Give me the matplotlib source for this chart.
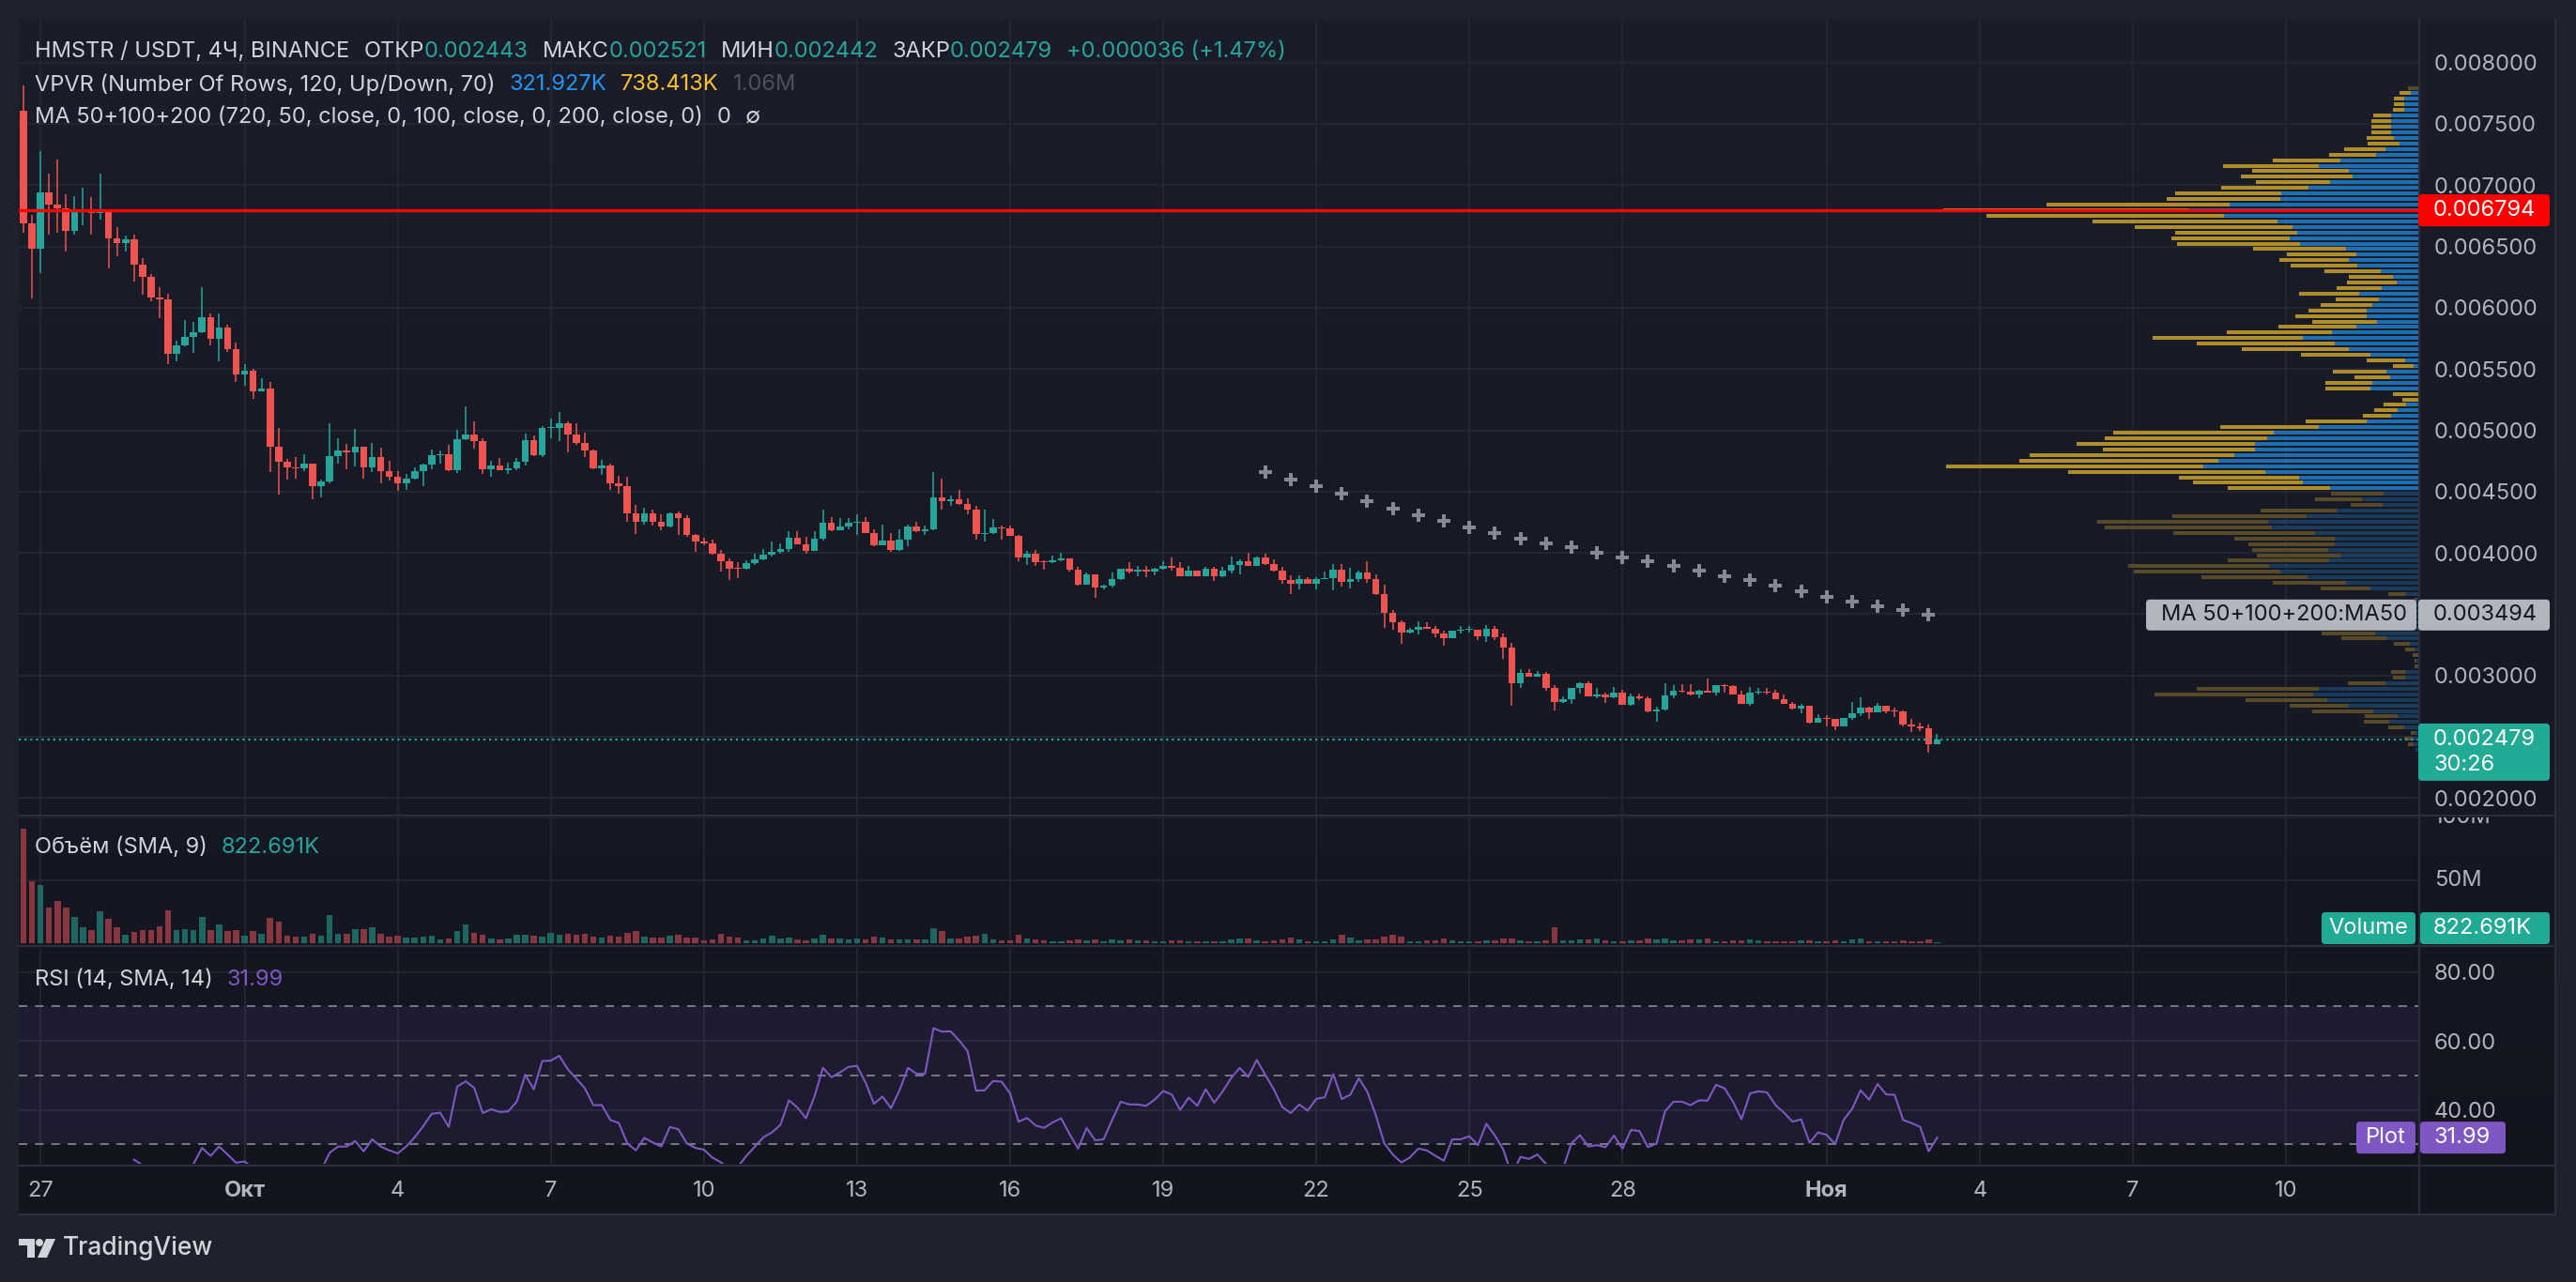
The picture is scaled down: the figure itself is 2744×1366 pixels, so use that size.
import numpy as np
import pandas as pd
import matplotlib
matplotlib.use('Agg')
import matplotlib.pyplot as plt
from matplotlib.patches import FancyBboxPatch, Polygon, Circle
from matplotlib.lines import Line2D
from matplotlib.transforms import Affine2D
from matplotlib.colors import LinearSegmentedColormap

plt.rcParams['font.family'] = ['Inter', 'DejaVu Sans']
plt.rcParams['lines.scale_dashes'] = False

# ---------------------------------------------------------------- data
bar_start = '2024-09-26 16:00'          # first 4h bar
first_open = 0.007603

closes = [
    0.006690, 0.006484, 0.006940, 0.006843, 0.006808, 0.006629, 0.006782, 0.006787, 0.006774, 0.006785,
    0.006568, 0.006527, 0.006558, 0.006353, 0.006251, 0.006086, 0.006070, 0.005626, 0.005695, 0.005762,
    0.005800, 0.005922, 0.005749, 0.005838, 0.005662, 0.005458, 0.005486, 0.005320, 0.005341, 0.004869,
    0.004746, 0.004700, 0.004693, 0.004728, 0.004547, 0.004586, 0.004790, 0.004836, 0.004823, 0.004864,
    0.004700, 0.004782, 0.004670, 0.004624, 0.004570, 0.004603, 0.004667, 0.004723, 0.004797, 0.004805,
    0.004677, 0.004927, 0.004966, 0.004910, 0.004685, 0.004711, 0.004675, 0.004690, 0.004744, 0.004920,
    0.004795, 0.005019, 0.005021, 0.005057, 0.004966, 0.004897, 0.004835, 0.004690, 0.004713, 0.004568,
    0.004545, 0.004323, 0.004254, 0.004323, 0.004254, 0.004216, 0.004323, 0.004284, 0.004147, 0.004093,
    0.004078, 0.003994, 0.003932, 0.003871, 0.003868, 0.003917, 0.003948, 0.003986, 0.004009, 0.004032,
    0.004124, 0.004070, 0.004017, 0.004116, 0.004246, 0.004185, 0.004216, 0.004246, 0.004254, 0.004162,
    0.004063, 0.004101, 0.004024, 0.004108, 0.004216, 0.004177, 0.004193, 0.004453, 0.004422, 0.004438,
    0.004399, 0.004356, 0.004154, 0.004165, 0.004208, 0.004203, 0.004142, 0.003963, 0.003994, 0.003925,
    0.003924, 0.003943, 0.003955, 0.003864, 0.003741, 0.003825, 0.003718, 0.003731, 0.003787, 0.003871,
    0.003848, 0.003864, 0.003848, 0.003871, 0.003894, 0.003879, 0.003810, 0.003856, 0.003810, 0.003871,
    0.003810, 0.003856, 0.003902, 0.003932, 0.003894, 0.003963, 0.003910, 0.003856, 0.003779, 0.003749,
    0.003787, 0.003749, 0.003787, 0.003797, 0.003864, 0.003764, 0.003787, 0.003841, 0.003787, 0.003665,
    0.003512, 0.003435, 0.003351, 0.003374, 0.003397, 0.003381, 0.003343, 0.003305, 0.003366, 0.003371,
    0.003372, 0.003320, 0.003381, 0.003313, 0.003228, 0.002938, 0.003022, 0.002991, 0.003014, 0.002899,
    0.002784, 0.002807, 0.002899, 0.002938, 0.002830, 0.002846, 0.002823, 0.002861, 0.002761, 0.002830,
    0.002815, 0.002708, 0.002723, 0.002838, 0.002876, 0.002869, 0.002846, 0.002876, 0.002861, 0.002922,
    0.002912, 0.002846, 0.002769, 0.002861, 0.002869, 0.002861, 0.002807, 0.002769, 0.002731, 0.002754,
    0.002616, 0.002654, 0.002647, 0.002586, 0.002654, 0.002693, 0.002739, 0.002700, 0.002754, 0.002708,
    0.002706, 0.002601, 0.002586, 0.002570, 0.002443, 0.002479,
]
highs = [
    0.007816, 0.006754, 0.007277, 0.007091, 0.007208, 0.006925, 0.006910, 0.006978, 0.006902, 0.007091,
    0.006787, 0.006657, 0.006588, 0.006596, 0.006404, 0.006277, 0.006167, 0.006114, 0.005731, 0.005899,
    0.005884, 0.006167, 0.005950, 0.005950, 0.005861, 0.005713, 0.005540, 0.005501, 0.005425, 0.005394,
    0.005019, 0.004769, 0.004782, 0.004805, 0.004728, 0.004601, 0.005058, 0.004935, 0.004889, 0.005012,
    0.004869, 0.004897, 0.004859, 0.004751, 0.004670, 0.004647, 0.004700, 0.004731, 0.004843, 0.004836,
    0.004881, 0.005004, 0.005195, 0.005073, 0.004935, 0.004751, 0.004774, 0.004736, 0.004774, 0.004973,
    0.004958, 0.005034, 0.005096, 0.005149, 0.005073, 0.005057, 0.004981, 0.004843, 0.004759, 0.004728,
    0.004629, 0.004621, 0.004392, 0.004369, 0.004353, 0.004315, 0.004330, 0.004338, 0.004307, 0.004154,
    0.004124, 0.004108, 0.004024, 0.003955, 0.003925, 0.003940, 0.003994, 0.004032, 0.004093, 0.004078,
    0.004177, 0.004177, 0.004131, 0.004177, 0.004353, 0.004292, 0.004284, 0.004284, 0.004315, 0.004292,
    0.004193, 0.004231, 0.004162, 0.004193, 0.004231, 0.004254, 0.004223, 0.004659, 0.004606, 0.004468,
    0.004514, 0.004445, 0.004384, 0.004353, 0.004277, 0.004223, 0.004223, 0.004147, 0.004017, 0.004024,
    0.003943, 0.003978, 0.004001, 0.003955, 0.003887, 0.003841, 0.003825, 0.003741, 0.003841, 0.003871,
    0.003925, 0.003894, 0.003894, 0.003879, 0.003932, 0.003963, 0.003925, 0.003894, 0.003856, 0.003887,
    0.003887, 0.003887, 0.003971, 0.003948, 0.004001, 0.003971, 0.003994, 0.003948, 0.003887, 0.003818,
    0.003818, 0.003802, 0.003802, 0.003848, 0.003910, 0.003910, 0.003879, 0.003856, 0.003932, 0.003825,
    0.003741, 0.003535, 0.003450, 0.003389, 0.003443, 0.003435, 0.003404, 0.003366, 0.003366, 0.003404,
    0.003404, 0.003374, 0.003412, 0.003404, 0.003343, 0.003267, 0.003052, 0.003052, 0.003037, 0.003029,
    0.002922, 0.002830, 0.002899, 0.002945, 0.002953, 0.002899, 0.002861, 0.002907, 0.002884, 0.002853,
    0.002853, 0.002830, 0.002746, 0.002938, 0.002922, 0.002930, 0.002930, 0.002884, 0.002976, 0.002922,
    0.002930, 0.002922, 0.002876, 0.002907, 0.002899, 0.002899, 0.002884, 0.002846, 0.002784, 0.002769,
    0.002746, 0.002685, 0.002677, 0.002647, 0.002654, 0.002784, 0.002823, 0.002746, 0.002777, 0.002754,
    0.002739, 0.002716, 0.002647, 0.002616, 0.002601, 0.002521,
]
lows = [
    0.006613, 0.006078, 0.006284, 0.006596, 0.006614, 0.006461, 0.006596, 0.006672, 0.006596, 0.006718,
    0.006323, 0.006422, 0.006461, 0.006216, 0.006109, 0.006055, 0.005917, 0.005542, 0.005565, 0.005688,
    0.005634, 0.005795, 0.005695, 0.005565, 0.005642, 0.005397, 0.005366, 0.005259, 0.005320, 0.004662,
    0.004478, 0.004601, 0.004609, 0.004670, 0.004440, 0.004455, 0.004570, 0.004731, 0.004685, 0.004708,
    0.004609, 0.004662, 0.004570, 0.004593, 0.004509, 0.004517, 0.004601, 0.004547, 0.004685, 0.004731,
    0.004670, 0.004654, 0.004922, 0.004853, 0.004647, 0.004624, 0.004675, 0.004644, 0.004675, 0.004713,
    0.004790, 0.004782, 0.004935, 0.004912, 0.004820, 0.004881, 0.004782, 0.004682, 0.004637, 0.004514,
    0.004483, 0.004254, 0.004154, 0.004231, 0.004223, 0.004185, 0.004208, 0.004147, 0.004131, 0.004009,
    0.004063, 0.003986, 0.003848, 0.003779, 0.003795, 0.003864, 0.003902, 0.003940, 0.003971, 0.003994,
    0.004009, 0.004070, 0.003994, 0.004017, 0.004101, 0.004177, 0.004185, 0.004193, 0.004147, 0.004162,
    0.004055, 0.004063, 0.004009, 0.004017, 0.004055, 0.004170, 0.004147, 0.004185, 0.004353, 0.004384,
    0.004392, 0.004318, 0.004109, 0.004093, 0.004154, 0.004109, 0.004142, 0.003932, 0.003902, 0.003894,
    0.003864, 0.003920, 0.003935, 0.003848, 0.003733, 0.003741, 0.003634, 0.003705, 0.003718, 0.003782,
    0.003833, 0.003810, 0.003802, 0.003818, 0.003864, 0.003856, 0.003810, 0.003810, 0.003810, 0.003810,
    0.003772, 0.003802, 0.003833, 0.003825, 0.003894, 0.003894, 0.003902, 0.003848, 0.003749, 0.003665,
    0.003703, 0.003749, 0.003703, 0.003787, 0.003695, 0.003726, 0.003711, 0.003764, 0.003756, 0.003657,
    0.003389, 0.003374, 0.003259, 0.003343, 0.003336, 0.003381, 0.003312, 0.003244, 0.003305, 0.003343,
    0.003353, 0.003290, 0.003274, 0.003290, 0.003137, 0.002754, 0.002899, 0.002991, 0.002991, 0.002876,
    0.002716, 0.002777, 0.002769, 0.002853, 0.002830, 0.002815, 0.002777, 0.002815, 0.002761, 0.002754,
    0.002800, 0.002700, 0.002624, 0.002716, 0.002815, 0.002861, 0.002838, 0.002815, 0.002861, 0.002838,
    0.002861, 0.002846, 0.002769, 0.002754, 0.002846, 0.002846, 0.002807, 0.002769, 0.002723, 0.002693,
    0.002608, 0.002624, 0.002585, 0.002555, 0.002586, 0.002639, 0.002670, 0.002647, 0.002700, 0.002693,
    0.002662, 0.002586, 0.002540, 0.002547, 0.002371, 0.002442,
]
volumes_m = [
    91.3, 49.0, 46.0, 28.2, 33.4, 28.2, 20.8, 12.6, 10.4, 25.2,
    19.3, 12.6, 6.7, 8.9, 10.4, 10.4, 13.4, 26.0, 10.4, 11.1,
    10.4, 20.8, 10.4, 14.9, 9.7, 10.4, 5.9, 9.7, 7.4, 20.0,
    17.1, 5.9, 5.2, 5.2, 7.4, 5.9, 22.3, 7.4, 7.4, 11.1,
    11.1, 12.6, 7.4, 5.2, 5.9, 4.5, 4.5, 5.2, 5.9, 3.0,
    3.7, 9.7, 14.9, 8.2, 6.7, 3.7, 3.0, 3.7, 6.7, 6.7,
    5.9, 5.2, 8.2, 6.7, 7.4, 6.7, 7.4, 5.2, 4.5, 5.9,
    5.2, 8.2, 9.7, 5.2, 4.5, 4.5, 5.9, 6.7, 4.5, 4.5,
    2.2, 3.0, 7.4, 5.2, 4.5, 2.2, 2.2, 3.7, 5.9, 3.7,
    4.5, 3.0, 2.2, 3.7, 6.7, 3.7, 3.7, 3.0, 3.7, 3.0,
    5.2, 4.5, 3.0, 3.0, 3.0, 3.0, 3.0, 11.9, 9.7, 3.7,
    3.7, 5.0, 5.9, 7.4, 3.0, 2.2, 2.2, 6.7, 3.7, 3.0,
    2.2, 1.5, 1.5, 2.2, 3.0, 2.2, 3.0, 1.5, 3.0, 2.2,
    3.0, 2.2, 2.2, 1.5, 1.5, 2.2, 2.2, 1.5, 1.5, 1.5,
    1.5, 1.5, 3.0, 3.7, 3.7, 2.2, 1.5, 2.2, 3.0, 4.5,
    3.0, 1.5, 1.5, 1.5, 3.0, 6.7, 4.5, 2.2, 3.0, 3.0,
    5.2, 6.7, 5.2, 1.5, 1.5, 2.2, 2.2, 3.7, 2.2, 1.5,
    1.5, 1.5, 2.2, 2.2, 3.7, 3.7, 2.2, 1.5, 1.5, 2.2,
    12.6, 2.2, 2.2, 3.0, 3.0, 3.7, 2.2, 1.5, 1.5, 2.2,
    2.2, 3.7, 3.0, 3.7, 2.2, 2.2, 3.0, 3.0, 3.7, 1.5,
    1.5, 2.2, 2.2, 3.0, 2.2, 1.5, 1.5, 1.5, 1.5, 2.2,
    2.2, 1.5, 1.5, 2.2, 1.5, 3.0, 3.7, 1.5, 1.5, 1.5,
    1.5, 2.2, 1.5, 1.5, 3.0, 0.822691,
]
nan = float('nan')
rsi_values = [
    nan, nan, nan, nan, nan, nan, nan, nan, nan, nan,
    nan, nan, nan, 25.6, 24.0, 22.0, 21.0, 18.0, 19.0, 21.0,
    24.4, 29.0, 26.7, 29.4, 27.1, 24.7, 25.1, 23.0, 22.0, 18.0,
    17.0, 17.5, 18.0, 19.0, 19.5, 22.5, 27.6, 29.4, 29.4, 31.0,
    28.0, 31.5, 29.4, 28.3, 27.4, 29.4, 32.1, 35.3, 38.9, 39.2,
    35.1, 46.8, 48.3, 46.4, 39.1, 40.2, 39.4, 39.6, 42.4, 50.2,
    46.0, 54.2, 54.3, 55.7, 51.8, 49.1, 46.3, 41.4, 41.4, 37.1,
    36.2, 30.3, 28.3, 31.9, 30.6, 29.4, 35.1, 34.4, 30.3, 29.0,
    28.5, 26.2, 24.8, 23.0, 23.5, 26.7, 29.4, 32.1, 33.5, 35.7,
    42.8, 40.7, 37.6, 43.9, 52.2, 49.5, 50.9, 52.5, 52.8, 48.0,
    41.8, 43.9, 40.5, 45.7, 52.2, 50.5, 50.5, 63.7, 62.7, 62.8,
    60.2, 57.1, 45.6, 45.7, 48.4, 48.2, 44.8, 36.6, 37.7, 35.5,
    34.8, 36.4, 37.6, 33.0, 28.8, 34.8, 31.2, 31.5, 37.1, 42.4,
    41.6, 41.6, 41.2, 43.0, 45.5, 44.5, 40.0, 43.6, 41.2, 46.0,
    42.1, 45.4, 49.3, 52.2, 49.6, 54.5, 50.2, 46.0, 40.9, 39.1,
    41.6, 39.8, 43.2, 43.7, 50.4, 43.2, 44.4, 49.2, 45.3, 38.5,
    30.3, 27.1, 24.8, 26.2, 28.8, 28.3, 26.7, 25.3, 31.5, 31.5,
    32.4, 29.8, 36.0, 32.6, 28.5, 21.0, 26.4, 25.8, 27.1, 24.4,
    20.0, 23.0, 30.3, 32.7, 29.4, 29.8, 29.2, 32.6, 28.8, 34.2,
    33.9, 29.2, 30.3, 39.6, 42.4, 42.4, 41.4, 42.8, 42.7, 47.3,
    46.3, 42.4, 37.3, 44.8, 45.4, 45.1, 41.4, 39.2, 36.6, 37.3,
    30.5, 33.5, 32.8, 30.1, 37.1, 40.3, 45.7, 43.0, 47.5, 44.5,
    44.4, 37.1, 36.2, 35.1, 28.0, 31.99,
]
ma50_start = '2024-10-21 00:00'         # 12h MA50 values (one per 12h bar)
ma50_values = [
    0.004659, 0.004598, 0.004545, 0.004483, 0.004422, 0.004361, 0.004307, 0.004262, 0.004210,
    0.004162, 0.004116, 0.004078, 0.004047, 0.004001, 0.003963, 0.003932, 0.003894, 0.003856,
    0.003810, 0.003779, 0.003733, 0.003687, 0.003642, 0.003603, 0.003565, 0.003534, 0.003494,
]
# VPVR: 120 rows from the highest price row downwards (relative volume)
vp_up = [
    0, 24, 45, 45, 45, 87, 87, 87, 87, 78, 60, 105, 135, 249, 318, 222, 210, 282, 351, 438,
    441, 603, 735, 621, 450, 402, 387, 411, 378, 231, 198, 222, 195, 120, 81, 69, 117, 189, 126, 147,
    165, 165, 132, 198, 276, 369, 267, 222, 153, 42, 15, 102, 90, 147, 153, 0, 0, 39, 66, 87,
    165, 318, 462, 483, 522, 522, 588, 639, 687, 489, 381, 369, 282, 111, 180, 114, 261, 357, 480, 468,
    330, 267, 267, 288, 249, 285, 477, 441, 354, 231, 153, 39, 6, 6, 9, 6, 3, 12, 138, 99,
    27, 12, 0, 6, 0, 42, 42, 105, 318, 336, 291, 225, 144, 66, 93, 45, 9, 18, 15, 9,
]
vp_down = [
    33, 36, 33, 33, 36, 57, 63, 63, 63, 87, 102, 132, 150, 216, 306, 309, 357, 237, 279, 339,
    363, 585, 783, 759, 591, 504, 390, 378, 393, 297, 222, 222, 213, 180, 141, 159, 144, 192, 138, 165,
    186, 228, 207, 249, 336, 480, 441, 342, 222, 123, 66, 171, 114, 150, 144, 81, 51, 72, 75, 90,
    195, 315, 513, 519, 570, 486, 654, 636, 822, 630, 384, 351, 327, 168, 150, 102, 243, 429, 546, 534,
    453, 321, 276, 243, 267, 324, 450, 468, 339, 234, 159, 57, 6, 3, 0, 6, 6, 0, 171, 147,
    51, 30, 18, 6, 12, 45, 39, 120, 390, 507, 261, 186, 195, 105, 81, 51, 15, 27, 18, 0,
]
value_area_rows = (1, 72)
poc_price = 0.006794
vpvr_legend = ['321.927K', '738.413K', '1.06M']
countdown = '30:26'
tick_dates = ['2024-09-27', '2024-10-01', '2024-10-04', '2024-10-07', '2024-10-10', '2024-10-13',
              '2024-10-16', '2024-10-19', '2024-10-22', '2024-10-25', '2024-10-28', '2024-11-01',
              '2024-11-04', '2024-11-07', '2024-11-10']
tick_labels = ['27', 'Окт', '4', '7', '10', '13', '16', '19', '22', '25', '28', 'Ноя', '4', '7', '10']
month_labels = {'Окт', 'Ноя'}
price_ticks = [0.0020, 0.0025, 0.0030, 0.0035, 0.0040, 0.0045, 0.0050, 0.0055,
               0.0060, 0.0065, 0.0070, 0.0075, 0.0080]
volume_ticks = [50, 100]
rsi_ticks = [40, 60, 80]
rsi_levels = [30, 50, 70]

# ---------------------------------------------------------------- prep
closes = np.array(closes); highs = np.array(highs); lows = np.array(lows)
volumes_m = np.array(volumes_m); rsi_values = np.array(rsi_values, dtype=float)
n = len(closes)
assert len(highs) == n and len(lows) == n and len(volumes_m) == n and len(rsi_values) == n
assert len(vp_up) == 120 and len(vp_down) == 120
opens = np.concatenate([[first_open], closes[:-1]])
x = np.arange(n)
t0 = pd.Timestamp(bar_start)
four_h = pd.Timedelta(hours=4)
tick_idx = [(pd.Timestamp(d) - t0) / four_h for d in tick_dates]
ma_idx = [(t - t0) / four_h for t in pd.date_range(ma50_start, periods=len(ma50_values), freq='12h')]
up = closes >= opens

UP, DN = '#26a69a', '#ef5350'
GRID = '#262a35'
AXT = '#b2b5be'
TXT = '#d1d4dc'
SEP = '#2b2f3b'
FS = 17

W, H = 2744, 1366
fig = plt.figure(figsize=(W / 100, H / 100), dpi=100)
fig.patch.set_facecolor('#1e222d')
TPX = Affine2D().scale(1, -1).translate(0, H)


def frect(x0, y0, x1, y1):
    return [x0 / W, 1 - y1 / H, (x1 - x0) / W, (y1 - y0) / H]


# background gradient
ax_bg = fig.add_axes(frect(20, 20, 2722, 1295), zorder=0)
cmap = LinearSegmentedColormap.from_list('bg', ['#1b1e2a', '#171a25', '#12151e'])
ax_bg.imshow(np.linspace(0, 1, 256).reshape(-1, 1), cmap=cmap, aspect='auto', extent=(0, 1, 0, 1))
ax_bg.axis('off')

XL = (-0.552, 281.57)

# ---------------- price pane
ax_p = fig.add_axes(frect(20, 20, 2576, 868), zorder=1)
ax_p.set_facecolor('none')
ax_p.set_xlim(*XL)
ax_p.set_ylim(0.001866, 0.008356)
for s in ax_p.spines.values():
    s.set_visible(False)
ax_p.set_xticks(tick_idx)
ax_p.tick_params(axis='x', length=0, labelbottom=False)
ax_p.yaxis.tick_right()
ax_p.set_yticks(price_ticks)
ax_p.set_yticklabels([f'{v:.6f}' for v in price_ticks])
ax_p.tick_params(axis='y', length=0, pad=12, labelsize=FS, labelcolor=AXT)
ax_p.grid(True, color=GRID, lw=1.1)
ax_p.set_axisbelow(True)

colors = np.where(up, UP, DN)
ax_p.vlines(x, lows, highs, colors=colors, lw=1.1, zorder=2)
body_bottom = np.minimum(opens, closes)
body_h = np.maximum(np.abs(closes - opens), 0.0000075)
ax_p.bar(x, body_h, bottom=body_bottom, width=0.84, color=colors, linewidth=0, zorder=3)
ax_p.plot(ma_idx, ma50_values, linestyle='none', marker='P', ms=10, color='#868993', mew=0, zorder=4)

# ---------------- volume profile overlay
ax_vp = fig.add_axes(frect(20, 20, 2576, 868), zorder=2, sharey=ax_p)
ax_vp.set_facecolor('none')
ax_vp.axis('off')
vp_up_a = np.array(vp_up, float); vp_dn_a = np.array(vp_down, float)
tot_max = (vp_up_a + vp_dn_a).max()
ax_vp.set_xlim(tot_max * 2556 / 506, 0)
p_hi, p_lo = highs.max(), lows.min()
row_h = (p_hi - p_lo) / 120
centers = p_hi - (np.arange(120) + 0.5) * row_h
in_va = (np.arange(120) >= value_area_rows[0]) & (np.arange(120) <= value_area_rows[1])
c_up = np.where(in_va, '#1e6fb2', '#1a3b5c')
c_dn = np.where(in_va, '#b08d2b', '#584a29')
ax_vp.barh(centers, vp_up_a, height=row_h * 0.68, left=0, color=c_up, linewidth=0)
ax_vp.barh(centers, vp_dn_a, height=row_h * 0.68, left=vp_up_a, color=c_dn, linewidth=0)
ax_vp.axhline(poc_price, color='#ff0000', lw=2.4, zorder=5)
ax_vp.axhline(closes[-1], color=UP, lw=1.6, dashes=(1.6, 2.8), zorder=5)

# ---------------- volume pane
ax_v = fig.add_axes(frect(20, 871, 2576, 1006), zorder=1, sharex=ax_p)
ax_v.set_facecolor('none')
ax_v.set_ylim(-0.74, 99.55)
for s in ax_v.spines.values():
    s.set_visible(False)
ax_v.set_yticks(volume_ticks)
ax_v.tick_params(axis='both', length=0, labelbottom=False, labelleft=False)
ax_v.grid(True, color=GRID, lw=1.1)
ax_v.set_axisbelow(True)
ax_v.bar(x, volumes_m, width=0.72, color=np.where(up, '#1e6660', '#883640'), linewidth=0)

ax_vr = fig.add_axes(frect(2576, 871, 2722, 1006), zorder=1, sharey=ax_v)
ax_vr.axis('off')
for v in volume_ticks:
    ax_vr.text(0.115, v, f'{v}M', color=AXT, fontsize=FS, va='center', ha='left',
               transform=ax_vr.get_yaxis_transform(), clip_on=True)

# ---------------- RSI pane
ax_r = fig.add_axes(frect(20, 1010, 2576, 1240), zorder=1, sharex=ax_p)
ax_r.set_facecolor('none')
ax_r.set_ylim(24.41, 86.99)
for s in ax_r.spines.values():
    s.set_visible(False)
ax_r.axhspan(rsi_levels[0], rsi_levels[-1], color='#7e57c2', alpha=0.1, lw=0)
for lv in rsi_levels:
    ax_r.axhline(lv, color='#787b86', lw=1.4, dashes=(6.5, 6.0))
ax_r.yaxis.tick_right()
ax_r.set_yticks(rsi_ticks)
ax_r.set_yticklabels([f'{v:.2f}' for v in rsi_ticks])
ax_r.tick_params(axis='y', length=0, pad=12, labelsize=FS, labelcolor=AXT)
ax_r.set_xticks(tick_idx)
ax_r.set_xticklabels(tick_labels)
ax_r.tick_params(axis='x', length=0, pad=13, labelsize=FS, labelcolor=AXT)
for lab in ax_r.get_xticklabels():
    if lab.get_text() in month_labels:
        lab.set_fontweight('bold')
ax_r.grid(True, color=GRID, lw=1.1)
ax_r.set_axisbelow(True)
ax_r.plot(x, rsi_values, color='#7e57c2', lw=1.5)
ax_r.set_xlim(*XL)


# ---------------- separators
def hline_px(y, x0, x1, color=SEP, lw=1.6):
    fig.add_artist(Line2D([x0, x1], [y, y], transform=TPX, color=color, lw=lw, zorder=6))


def vline_px(xx, y0, y1, color=SEP, lw=1.6):
    fig.add_artist(Line2D([xx, xx], [y0, y1], transform=TPX, color=color, lw=lw, zorder=6))


hline_px(868.5, 20, 2722)
hline_px(1008, 20, 2722)
hline_px(1241.5, 20, 2722)
hline_px(1294, 20, 2722)
vline_px(2576.5, 20, 1294)
vline_px(2722, 20, 1294)


# ---------------- labels / boxes
def img_y(ax, v):
    return H - ax.transData.transform((0, v))[1]


def box(x0, x1, yc, h, fc, text, tc, ha='left', tx=None, size=FS):
    fig.add_artist(FancyBboxPatch((x0, yc - h / 2), x1 - x0, h,
                                  boxstyle='round,pad=0,rounding_size=4', transform=TPX,
                                  fc=fc, ec='none', zorder=20))
    if tx is None:
        tx = (x0 + x1) / 2 if ha == 'center' else x0 + 16
    fig.text(tx, yc, text, transform=TPX, color=tc, fontsize=size, ha=ha, va='center', zorder=21)


yc = img_y(ax_p, poc_price)
box(2576, 2716, yc, 34, '#ff0000', f'{poc_price:.6f}', 'white')
yc = img_y(ax_p, ma50_values[-1])
box(2286, 2574, yc, 33, '#b2b5be', 'MA 50+100+200:MA50', '#131722')
box(2576, 2716, yc, 33, '#b2b5be', f'{ma50_values[-1]:.6f}', '#131722')
yc = img_y(ax_p, closes[-1])
fig.add_artist(FancyBboxPatch((2576, yc - 17), 140, 61, boxstyle='round,pad=0,rounding_size=4',
                              transform=TPX, fc='#22ab94', ec='none', zorder=20))
fig.text(2592, yc, f'{closes[-1]:.6f}', transform=TPX, color='white', fontsize=FS, va='center', zorder=21)
fig.text(2592, yc + 27, countdown, transform=TPX, color='white', fontsize=FS, va='center', zorder=21)

vol_txt = f'{volumes_m[-1] * 1000:.3f}K'
yc = min(img_y(ax_v, volumes_m[-1]), 1006 - 17)
box(2473, 2573, yc, 34, '#22ab94', 'Volume', 'white', ha='center')
box(2578, 2716, yc, 34, '#22ab94', vol_txt, 'white', tx=2592)
yc = img_y(ax_r, rsi_values[-1])
box(2510, 2573, yc, 34, '#7e57c2', 'Plot', 'white', ha='center')
box(2578, 2669, yc, 34, '#7e57c2', f'{rsi_values[-1]:.2f}', 'white', tx=2592)


# ---------------- legends
def chain(x0, y, parts, size=FS):
    r = fig.canvas.get_renderer()
    xx = x0
    for s, c, gap in parts:
        t = fig.text(xx, y, s, transform=TPX, color=c, fontsize=size, ha='left', va='center', zorder=22)
        xx = t.get_window_extent(r).x1 + gap


TEAL = '#26a69a'
chg = closes[-1] - closes[-2]
pct = chg / closes[-2] * 100
chain(37, 55, [('HMSTR / USDT, 4Ч, BINANCE', TXT, 15),
               ('ОТКР', TXT, 0), (f'{opens[-1]:.6f}', TEAL, 15),
               ('МАКС', TXT, 0), (f'{highs[-1]:.6f}', TEAL, 15),
               ('МИН', TXT, 0), (f'{lows[-1]:.6f}', TEAL, 15),
               ('ЗАКР', TXT, 0), (f'{closes[-1]:.6f}', TEAL, 15),
               (f'{chg:+.6f} ({pct:+.2f}%)', TEAL, 0)])
chain(37, 90, [('VPVR (Number Of Rows, 120, Up/Down, 70)', TXT, 15),
               (vpvr_legend[0], '#2196f3', 15), (vpvr_legend[1], '#fbc02d', 15),
               (vpvr_legend[2], '#4f525c', 0)])
chain(37, 125, [('MA 50+100+200 (720, 50, close, 0, 100, close, 0, 200, close, 0)', TXT, 15),
                ('0', TXT, 15), ('∅', TXT, 0)])
chain(37, 903, [('Объём (SMA, 9)', TXT, 15), (vol_txt, TEAL, 0)])
chain(37, 1044, [('RSI (14, SMA, 14)', TXT, 15), (f'{rsi_values[-1]:.2f}', '#7e57c2', 0)])

# ---------------- TradingView logo
LOGO = '#d1d4dc'
fig.add_artist(Polygon([(20, 1320), (37, 1320), (37, 1340), (29, 1340), (29, 1327), (20, 1327)],
                       closed=True, transform=TPX, fc=LOGO, ec='none', zorder=22))
fig.add_artist(Circle((42, 1324), 4, transform=TPX, fc=LOGO, ec='none', zorder=22))
fig.add_artist(Polygon([(49, 1320), (59, 1320), (50, 1340), (40, 1340)],
                       closed=True, transform=TPX, fc=LOGO, ec='none', zorder=22))
fig.text(67, 1330, 'TradingView', transform=TPX, color=LOGO, fontsize=19, fontweight='medium',
         ha='left', va='center', zorder=22)

fig.savefig('out.png', dpi=100, facecolor=fig.get_facecolor())
